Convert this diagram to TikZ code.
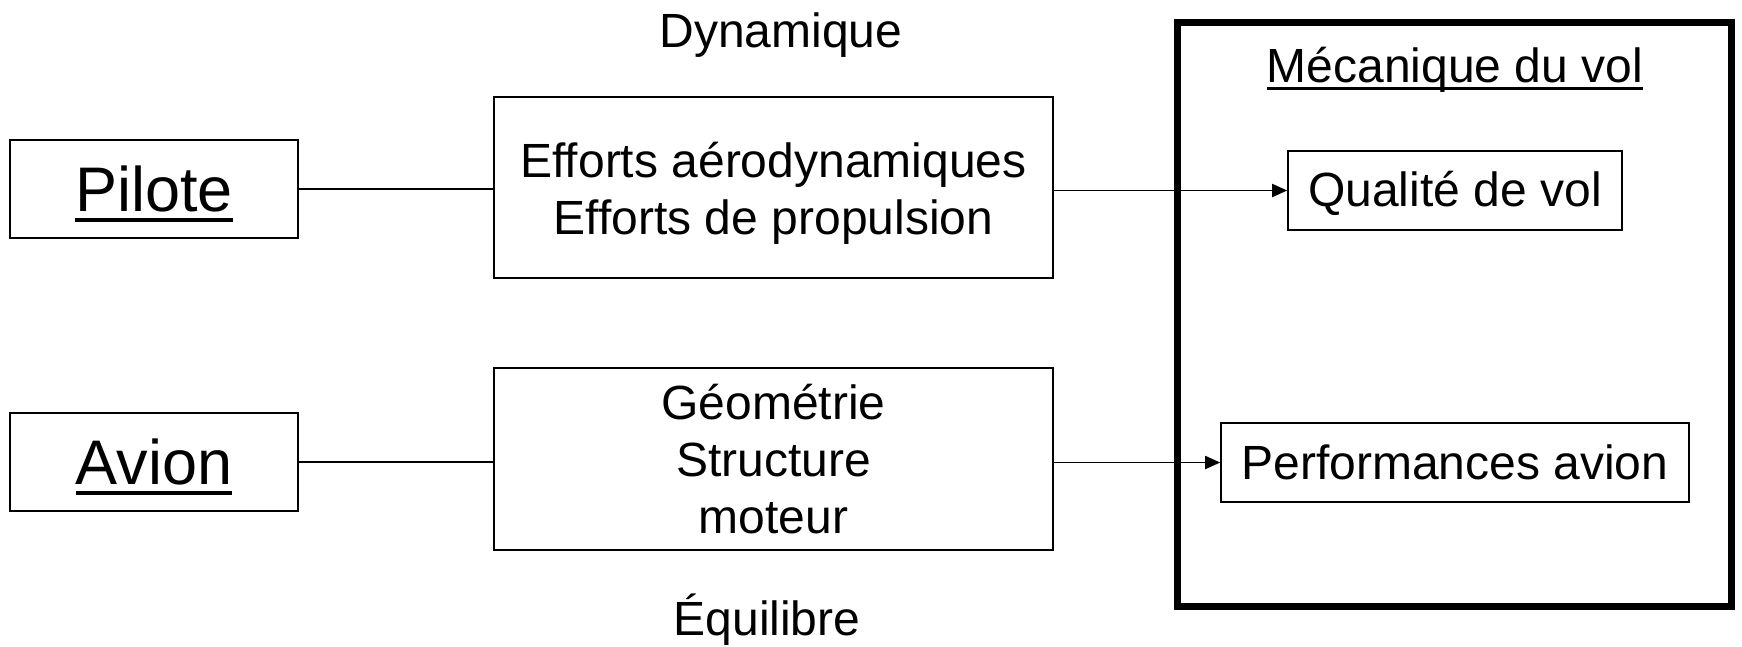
\documentclass[tikz,border=0pt]{standalone}
\usepackage{fontspec}
\setmainfont{Liberation Sans}
\usetikzlibrary{arrows.meta}
% underlined word whose rule does not change the box depth
\newcommand\ulword[1]{\setbox0\hbox{#1}\rlap{\smash{\rule[-0.17em]{\wd0}{0.06em}}}\box0}
\begin{document}
\begin{tikzpicture}[x=1pt,y=-1pt,
  txt/.style={font=\fontsize{48}{57}\selectfont, align=center},
  big/.style={font=\fontsize{63}{70}\selectfont},
  box/.style={draw, line width=1.6pt, inner sep=0pt, txt},
  link/.style={line width=1.8pt},
  arr/.style={line width=1.8pt, -{Triangle[length=15pt,width=13pt]}}
]
\useasboundingbox (0,0) rectangle (1742,646);

% left column
\node[box, big, minimum width=288pt, minimum height=98pt] (pilote) at (154,189) {\ulword{Pilote}};
\node[box, big, minimum width=288pt, minimum height=98pt] (avion) at (154,462) {\ulword{Avion}};

% middle column
\node[txt, anchor=base] (dyn) at (781,47) {Dynamique};
\node[box, minimum width=559pt, minimum height=181pt] (efforts) at (773.5,187.5) {};
\node[txt] (effortstext) at ([yshift=-6pt]efforts.center)
  {Efforts aérodynamiques\\Efforts de propulsion};
\node[box, minimum width=559pt, minimum height=182pt] (geom) at (773.5,459)
  {Géométrie\\Structure\\moteur};
\node[txt, anchor=base] (equil) at (767,635) {Équilibre};

% right frame
\node[draw, line width=7pt, minimum width=554pt, minimum height=584pt, inner sep=0pt] (meca) at (1454.5,314.5) {};
\node[txt, anchor=base] (mectitle) at (1455,82) {\ulword{Mécanique du vol}};
\node[box, minimum width=334pt, minimum height=79pt] (qual) at (1455,190.5) {};
\node[txt] (qualtext) at ([yshift=-3pt]qual.center) {Qualité de vol};
\node[box, minimum width=468pt, minimum height=79pt] (perf) at (1455,462.5) {Performances avion};

% connectors
\draw[link] (pilote.east) -- (pilote.east -| efforts.west);
\draw[link] (avion.east) -- (avion.east -| geom.west);
\draw[arr] (efforts.east |- qual.west) -- (qual.west);
\draw[arr] (geom.east |- perf.west) -- (perf.west);
\end{tikzpicture}
\end{document}
